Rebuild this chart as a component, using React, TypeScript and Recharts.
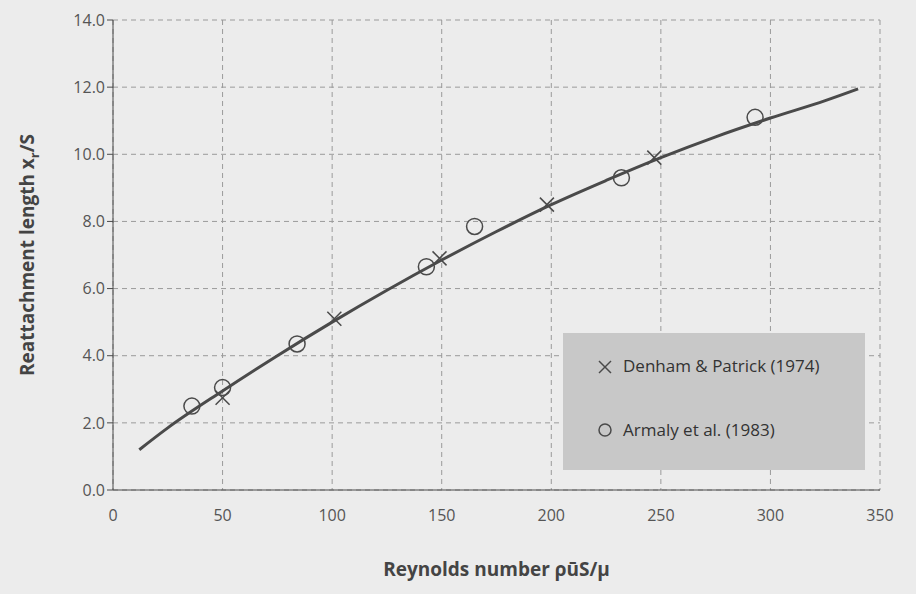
import { ComposedChart, Line, Scatter, XAxis, YAxis, CartesianGrid, Label } from 'recharts';

const curveRe = [12, 25, 50, 75, 100, 125, 150, 175, 200, 225, 250, 275, 300, 325, 340];
const curveXr = [1.2, 1.85, 2.95, 4.0, 5.0, 5.95, 6.85, 7.7, 8.5, 9.22, 9.9, 10.52, 11.08, 11.6, 11.95];
const denhamRe = [50, 101, 149, 198, 247];
const denhamXr = [2.75, 5.1, 6.9, 8.5, 9.9];
const armalyRe = [36, 50, 84, 143, 165, 232, 293];
const armalyXr = [2.5, 3.05, 4.35, 6.65, 7.85, 9.3, 11.1];
const xTicks = [0, 50, 100, 150, 200, 250, 300, 350];
const yTicks = [0, 2, 4, 6, 8, 10, 12, 14];

const curve = curveRe.map((x, i) => ({ x, y: curveXr[i] }));
const denham = denhamRe.map((x, i) => ({ x, y: denhamXr[i] }));
const armaly = armalyRe.map((x, i) => ({ x, y: armalyXr[i] }));

const ink = '#4a4a4a';

function Cross({ cx, cy }: any) {
  const s = 7;
  return (
    <g stroke={ink} strokeWidth={1.5}>
      <line x1={cx - s} y1={cy - s} x2={cx + s} y2={cy + s} />
      <line x1={cx - s} y1={cy + s} x2={cx + s} y2={cy - s} />
    </g>
  );
}

function Ring({ cx, cy }: any) {
  return <circle cx={cx} cy={cy} r={8} fill="none" stroke={ink} strokeWidth={1.5} />;
}

function YTitle({ viewBox }: any) {
  const x = 34;
  const y = viewBox.y + viewBox.height / 2;
  return (
    <text x={x} y={y} transform={`rotate(-90 ${x} ${y})`} textAnchor="middle" fill="#444" fontSize={19} fontWeight="bold">
      Reattachment length x<tspan fontSize={13} dy={5}>r</tspan><tspan dy={-5}>/S</tspan>
    </text>
  );
}

export default function App() {
  return (
    <div style={{ position: 'fixed', left: 0, top: 0, width: 916, height: 594, background: '#ececec', fontFamily: '"Open Sans", sans-serif' }}>
      <ComposedChart width={916} height={594} margin={{ top: 20, right: 36, bottom: 74, left: 20 }}>
        <CartesianGrid stroke="#9a9a9a" strokeDasharray="5 4" />
        <XAxis
          type="number"
          dataKey="x"
          domain={[0, 350]}
          ticks={xTicks}
          tick={{ fill: '#555', fontSize: 16 }}
          tickMargin={14}
          axisLine={{ stroke: ink }}
          tickLine={false}
        >
          <Label value="Reynolds number  ρūS/μ" position="insideBottom" offset={-56} style={{ fill: '#444', fontSize: 19, fontWeight: 'bold' }} />
        </XAxis>
        <YAxis
          type="number"
          domain={[0, 14]}
          ticks={yTicks}
          tickFormatter={(v: number) => v.toFixed(1)}
          tick={{ fill: '#555', fontSize: 16 }}
          width={93}
          axisLine={{ stroke: ink }}
          tickLine={{ stroke: ink }}
        >
          <Label content={<YTitle />} />
        </YAxis>
        <Line data={curve} dataKey="y" type="monotone" stroke={ink} strokeWidth={3} dot={false} isAnimationActive={false} />
        <Scatter data={denham} dataKey="y" shape={<Cross />} isAnimationActive={false} />
        <Scatter data={armaly} dataKey="y" shape={<Ring />} isAnimationActive={false} />
      </ComposedChart>
      <div style={{ position: 'absolute', left: 563, top: 333, width: 302, height: 137, background: '#c8c8c8', color: '#333', fontSize: 17 }}>
        <svg style={{ position: 'absolute', left: 34, top: 26 }} width={16} height={16}>
          <line x1={2} y1={2} x2={14} y2={14} stroke={ink} strokeWidth={1.5} />
          <line x1={2} y1={14} x2={14} y2={2} stroke={ink} strokeWidth={1.5} />
        </svg>
        <div style={{ position: 'absolute', left: 60, top: 21 }}>Denham &amp; Patrick (1974)</div>
        <svg style={{ position: 'absolute', left: 34, top: 89 }} width={16} height={16}>
          <circle cx={8} cy={8} r={6} fill="none" stroke={ink} strokeWidth={1.5} />
        </svg>
        <div style={{ position: 'absolute', left: 60, top: 85 }}>Armaly et al. (1983)</div>
      </div>
    </div>
  );
}
